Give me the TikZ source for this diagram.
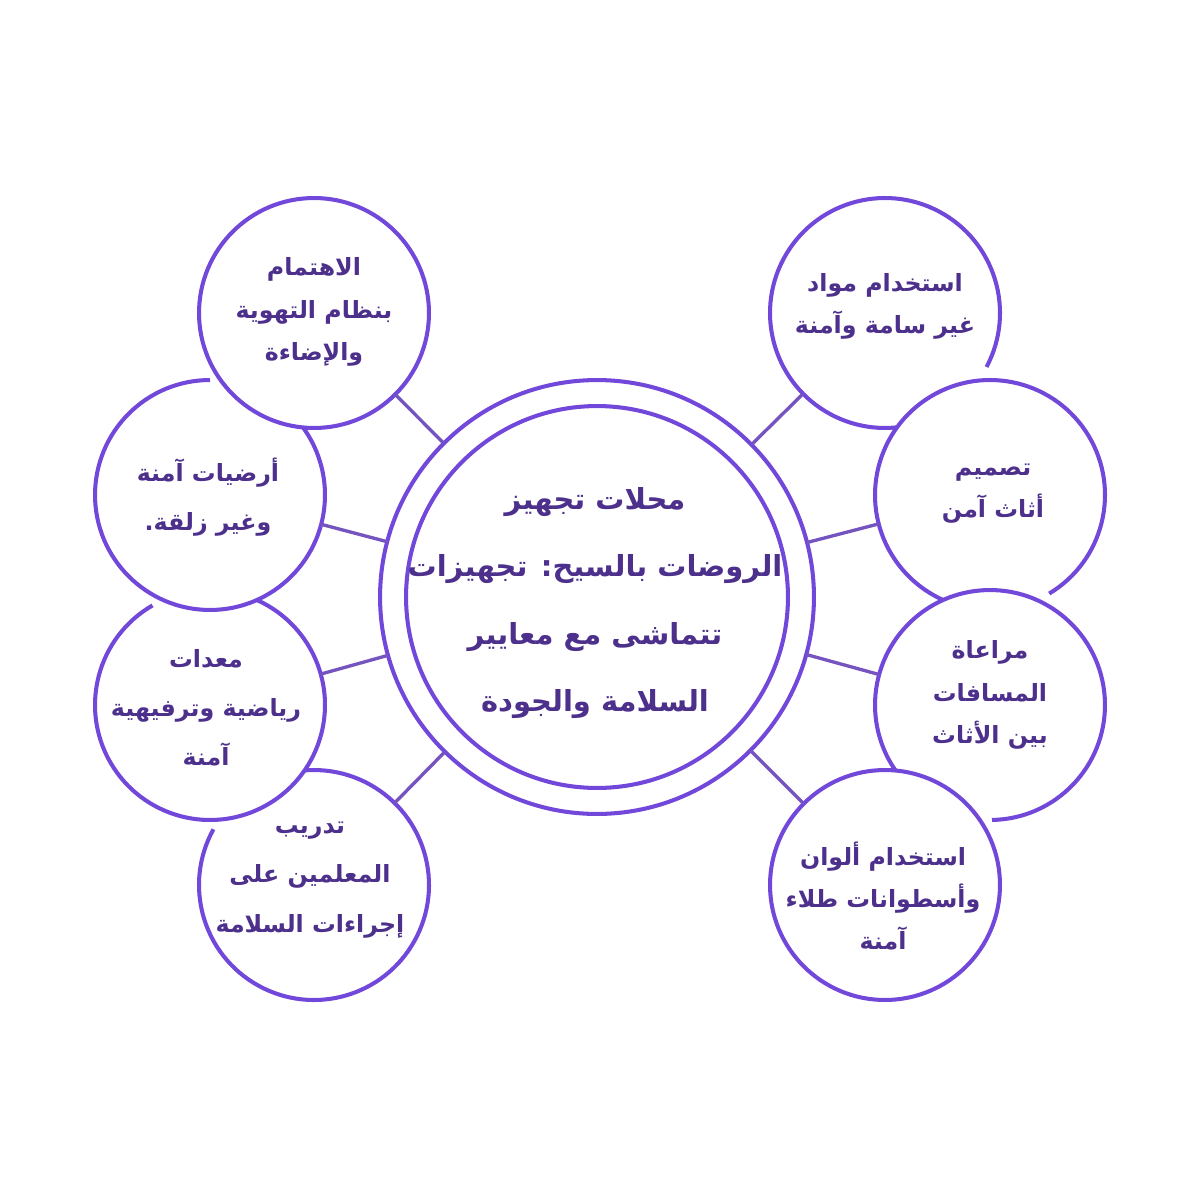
\documentclass[tikz,border=0pt]{standalone}
\usepackage{fontspec}
\newfontfamily\arabicfont[Script=Arabic]{DejaVu Sans}
\TeXXeTstate=1
\usepackage{tikz}
\usetikzlibrary{positioning}

\definecolor{ringpurple}{RGB}{114,72,218}
\definecolor{linkpurple}{RGB}{118,84,192}
\definecolor{textpurple}{RGB}{76,48,140}
\newcommand{\ar}[1]{\beginR #1\endR}

\begin{document}
\begin{tikzpicture}[
      x=0.02cm, y=0.02cm,
      sat/.style={circle, fill=white, minimum size=4.6cm, inner sep=0pt, outer sep=0pt},
      ring/.style={draw=ringpurple, line width=2.3pt},
      link/.style={draw=linkpurple, line width=1.9pt},
      lbl/.style={align=center, text=textpurple, font=\arabicfont\bfseries\fontsize{13.5}{24}\selectfont},
      title/.style={align=center, text=textpurple, font=\arabicfont\bfseries\fontsize{16.5}{38.5}\selectfont}
  ]
      \fill[white] (0,0) rectangle (1200,-1200);
      \useasboundingbox (0,0) rectangle (1200,-1200);

      % Centre
      \node[sat, ring, minimum size=8.68cm] (main) at (597,-597) {};
      \node[sat, ring, minimum size=7.64cm] (core) at (597,-597) {};
      \node[title] (topic) at (595,-603) {\ar{محلات تجهيز}\\ \ar{الروضات بالسيح: تجهيزات}\\ \ar{تتماشى مع معايير}\\ \ar{السلامة والجودة}};

      % Left side, bottom circle first
      \node[sat] (bl) at (314,-885) {};
      \draw[ring] ([shift={(151:2.3cm)}]bl.center) arc[start angle=151, end angle=460, radius=2.3cm];
      \node[sat] (ll) at (210,-705) {};
      \draw[ring] ([shift={(120:2.3cm)}]ll.center) arc[start angle=120, end angle=430, radius=2.3cm];
      \node[sat] (lu) at (210,-495) {};
      \draw[ring] ([shift={(90:2.3cm)}]lu.center) arc[start angle=90, end angle=410, radius=2.3cm];
      \node[sat, ring] (tl) at (314,-313) {};

      % Right side, top circle first
      \node[sat] (tr) at (885,-313) {};
      \draw[ring] ([shift={(-28:2.3cm)}]tr.center) arc[start angle=-28, end angle=285, radius=2.3cm];
      \node[sat] (ru) at (990,-495) {};
      \draw[ring] ([shift={(-59:2.3cm)}]ru.center) arc[start angle=-59, end angle=250, radius=2.3cm];
      \node[sat] (rl) at (990,-705) {};
      \draw[ring] ([shift={(-89:2.3cm)}]rl.center) arc[start angle=-89, end angle=220, radius=2.3cm];
      \node[sat, ring] (br) at (885,-885) {};

      % Labels
      \node[lbl] (tl-t) at (314,-312) {\ar{الاهتمام}\\ \ar{بنظام التهوية}\\ \ar{والإضاءة}};
      \node[lbl, font=\arabicfont\bfseries\fontsize{13.5}{28}\selectfont] (lu-t) at (208,-497) {\ar{أرضيات آمنة}\\ \ar{وغير زلقة.}};
      \node[lbl, font=\arabicfont\bfseries\fontsize{13.5}{28}\selectfont] (ll-t) at (206,-708) {\ar{معدات}\\ \ar{رياضية وترفيهية}\\ \ar{آمنة}};
      \node[lbl, font=\arabicfont\bfseries\fontsize{13.5}{28}\selectfont] (bl-t) at (310,-880) {\ar{تدريب}\\ \ar{المعلمين على}\\ \ar{إجراءات السلامة}};
      \node[lbl] (tr-t) at (885,-306) {\ar{استخدام مواد}\\ \ar{غير سامة وآمنة}};
      \node[lbl] (ru-t) at (993,-494) {\ar{تصميم}\\ \ar{أثاث آمن}};
      \node[lbl] (rl-t) at (990,-695) {\ar{مراعاة}\\ \ar{المسافات}\\ \ar{بين الأثاث}};
      \node[lbl] (br-t) at (883,-896) {\ar{استخدام ألوان}\\ \ar{وأسطوانات طلاء}\\ \ar{آمنة}};

      % Connectors
      \draw[link] (tl) -- (main);
      \draw[link] (lu) -- (main);
      \draw[link] (ll) -- (main);
      \draw[link] (bl) -- (main);
      \draw[link] (tr) -- (main);
      \draw[link] (ru) -- (main);
      \draw[link] (rl) -- (main);
      \draw[link] (br) -- (main);

  \end{tikzpicture}
\end{document}
